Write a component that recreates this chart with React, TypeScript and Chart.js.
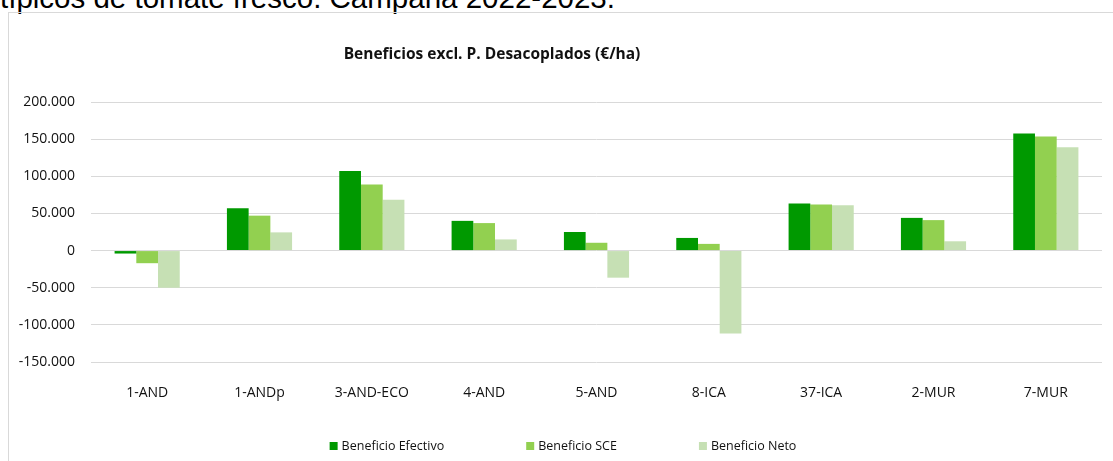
import React, { useEffect, useRef } from "react";
import { Chart, registerables } from "chart.js";

Chart.register(...registerables);

const categories = ["1-AND", "1-ANDp", "3-AND-ECO", "4-AND", "5-AND", "8-ICA", "37-ICA", "2-MUR", "7-MUR"];
const beneficioEfectivo = [-4000, 57000, 107000, 40000, 25000, 17000, 63500, 44000, 157500];
const beneficioSCE = [-17000, 47000, 89000, 37000, 10500, 9000, 62000, 41000, 153500];
const beneficioNeto = [-50000, 24500, 68500, 15000, -36500, -111500, 61000, 12500, 139000];
const seriesLabels = ["Beneficio Efectivo", "Beneficio SCE", "Beneficio Neto"];
const seriesColors = ["#009900", "#92D050", "#C6E0B4"];
const chartTitle = "Beneficios excl. P. Desacoplados (€/ha)";
const pageHeading = "típicos de tomate fresco. Campaña 2022-2023.";
const yMin = -150000;
const yMax = 200000;
const yStep = 50000;

const fmt = (v: number) => {
  const neg = v < 0;
  const s = Math.abs(Math.round(v)).toString().replace(/\B(?=(\d{3})+(?!\d))/g, ".");
  return (neg ? "-" : "") + s;
};

const TEXT = "#111111";

const overlayPlugin = {
  id: "overlay",
  afterDraw(chart: any) {
    const ctx = chart.ctx;
    ctx.save();
    // title
    ctx.fillStyle = TEXT;
    ctx.font = "bold 15.5px 'Open Sans'";
    ctx.textAlign = "center";
    ctx.textBaseline = "middle";
    ctx.fillText(chartTitle, 492, 55);
    // legend
    ctx.font = "12.5px 'Open Sans'";
    ctx.textAlign = "left";
    const box = 8;
    const gapText = 4;
    const gapItem = 82;
    const widths = seriesLabels.map((l) => ctx.measureText(l).width);
    const total = widths.reduce((a, w) => a + box + gapText + w, 0) + gapItem * (seriesLabels.length - 1);
    let x = 563 - total / 2;
    const y = 446;
    seriesLabels.forEach((l, i) => {
      ctx.fillStyle = seriesColors[i];
      ctx.fillRect(x, y - box / 2, box, box);
      ctx.fillStyle = TEXT;
      ctx.fillText(l, x + box + gapText, y + 0.5);
      x += box + gapText + widths[i] + gapItem;
    });
    ctx.restore();
  },
};

export default function App() {
  const ref = useRef<HTMLCanvasElement>(null);
  useEffect(() => {
    if (!ref.current) return;
    const chart = new Chart(ref.current, {
      type: "bar",
      data: {
        labels: categories,
        datasets: [
          { label: seriesLabels[0], data: beneficioEfectivo, backgroundColor: seriesColors[0] },
          { label: seriesLabels[1], data: beneficioSCE, backgroundColor: seriesColors[1] },
          { label: seriesLabels[2], data: beneficioNeto, backgroundColor: seriesColors[2] },
        ],
      },
      options: {
        animation: false,
        responsive: false,
        maintainAspectRatio: false,
        layout: { padding: { left: 0, right: 11, top: 102, bottom: 59 } },
        datasets: { bar: { categoryPercentage: 0.58, barPercentage: 1 } },
        plugins: { legend: { display: false }, title: { display: false }, tooltip: { enabled: false } },
        scales: {
          x: {
            grid: { display: false },
            border: { display: false },
            ticks: { color: TEXT, font: { family: "'Open Sans'", size: 14 }, padding: 15, maxRotation: 0 },
            afterFit: (s: any) => { s.height = 40; },
          },
          y: {
            min: yMin,
            max: yMax,
            grid: { color: "#d9d9d9", drawTicks: false, lineWidth: 1 },
            border: { display: false },
            ticks: {
              stepSize: yStep,
              color: TEXT,
              font: { family: "'Open Sans'", size: 14 },
              padding: 16,
              callback: (v: any) => fmt(Number(v)),
            },
            afterFit: (s: any) => { s.width = 91; },
          },
        },
      },
      plugins: [overlayPlugin],
    });
    return () => chart.destroy();
  }, []);

  return (
    <div style={{ position: "fixed", left: 0, top: 0, width: 1113, height: 461, overflow: "hidden", background: "#fff" }}>
      <div
        style={{
          position: "absolute",
          left: 0,
          top: -17.5,
          fontFamily: "'Liberation Sans', Arial, sans-serif",
          fontSize: 29.5,
          lineHeight: "29.5px",
          whiteSpace: "nowrap",
          color: "#000",
        }}
      >
        {pageHeading}
      </div>
      <div
        style={{
          position: "absolute",
          left: 8,
          top: 12,
          width: 1200,
          height: 500,
          borderLeft: "1px solid #d9d9d9",
          borderTop: "1px solid #d9d9d9",
        }}
      />
      <canvas ref={ref} width={1113} height={461} style={{ position: "absolute", left: 0, top: 0, width: 1113, height: 461 }} />
    </div>
  );
}
